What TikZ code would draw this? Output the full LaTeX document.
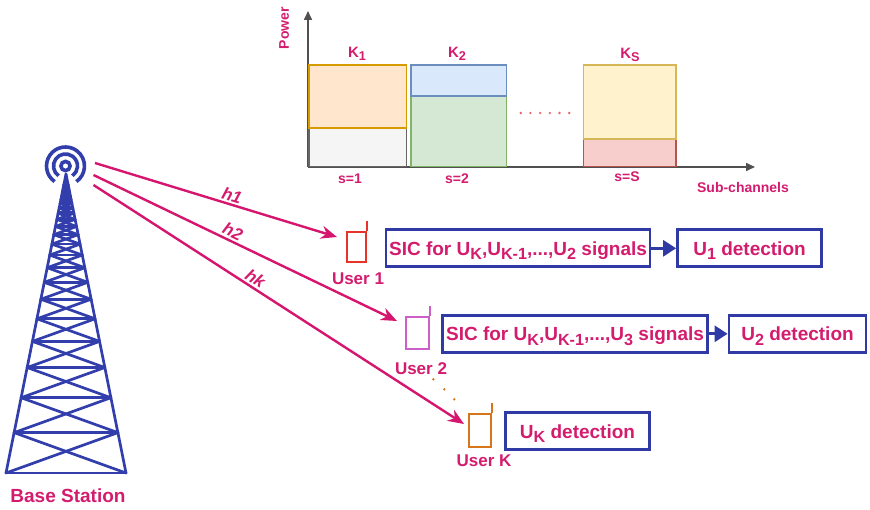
\documentclass[tikz,border=0pt]{standalone}
\usepackage{fontspec}
\setmainfont{Liberation Sans}
\usetikzlibrary{arrows.meta}

\definecolor{txt}{RGB}{212,28,110}
\definecolor{sig}{RGB}{214,22,110}
\definecolor{bx}{RGB}{48,58,165}
\definecolor{twr}{RGB}{50,62,172}
\definecolor{axc}{RGB}{80,80,80}
\definecolor{ph1}{RGB}{232,52,40}
\definecolor{ph2}{RGB}{205,95,200}
\definecolor{phk}{RGB}{212,118,25}
\definecolor{dotc}{RGB}{232,100,100}
\definecolor{orF}{HTML}{FFE6CC}\definecolor{orD}{HTML}{D79B00}
\definecolor{grF}{HTML}{F5F5F5}\definecolor{grD}{HTML}{666666}
\definecolor{blF}{HTML}{DAE8FC}\definecolor{blD}{HTML}{6C8EBF}
\definecolor{gnF}{HTML}{D5E8D4}\definecolor{gnD}{HTML}{82B366}
\definecolor{yeF}{HTML}{FFF2CC}\definecolor{yeD}{HTML}{D6B656}
\definecolor{rdF}{HTML}{F8CECC}\definecolor{rdD}{HTML}{B85450}

\newcommand\lowsub[1]{\raisebox{-0.24em}{\scalebox{0.85}{#1}}}

\tikzset{
  lab/.style={text=txt, inner sep=1pt, font=\fontsize{17}{20}\selectfont\bfseries},
  boxtxt/.style={text=txt, font=\fontsize{19}{22}\selectfont\bfseries},
  chartlab/.style={text=txt, inner sep=1pt, font=\fontsize{15}{18}\selectfont\bfseries},
  small/.style={text=txt, inner sep=1pt, font=\fontsize{14}{16}\selectfont\bfseries},
  blk/.style={boxtxt, draw=bx, line width=2.8pt, inner sep=0pt, minimum height=37pt,
              text height=13.6pt, text depth=0pt},
  flow/.style={draw=bx, line width=3pt, -{Triangle[length=13pt,width=16pt]}},
  sigline/.style={draw=sig, line width=2.4pt, -{Stealth[length=16pt,width=13pt]}},
  hlab/.style={text=txt, sloped, above, inner sep=2pt,
               font=\fontsize{17}{20}\selectfont\bfseries\itshape},
  phone/.style={draw=#1, line width=2pt, inner sep=0pt},
  towerline/.style={draw=twr, line width=2.7pt, line cap=round, line join=round},
  axis/.style={draw=axc, line width=1.6pt, -{Triangle[length=9pt,width=8pt]}},
  bar/.style args={#1/#2}{fill=#1, draw=#2, line width=1.8pt},
}

\begin{document}
\begin{tikzpicture}[x=1pt,y=-1pt]
\useasboundingbox (0,0) rectangle (870,510);

% ---------- power / sub-channel chart ----------
\draw[axis] (308,167) -- (308,11);
\draw[axis] (308,167) -- (755,167);

\draw[bar=grF/grD] (309,128.3) rectangle (406.5,166.5);
\draw[bar=orF/orD] (309,65) rectangle (406.5,128.3);
\draw[bar=gnF/gnD] (410.7,95.7) rectangle (506.5,166.5);
\draw[bar=blF/blD] (410.7,65) rectangle (506.5,95.7);
\draw[bar=rdF/rdD] (583.5,139) rectangle (676,166.5);
\draw[bar=yeF/yeD] (583.5,65) rectangle (676,139);

\foreach \i in {0,...,5}
  \fill[dotc] ({520.7+9.7*\i},113) circle (1.3);

\node[small, rotate=90] (pw) at (284,28) {Power};
\node[small] (sc) at (743,187) {Sub-channels};
\node[chartlab] (k1) at (357,54) {K\lowsub{1}};
\node[chartlab] (k2) at (457,54) {K\lowsub{2}};
\node[chartlab] (ks) at (630,55) {K\lowsub{S}};
\node[small] (s1) at (350,179) {s=1};
\node[small] (s2) at (457,179) {s=2};
\node[small] (sS) at (627,177) {s=S};

% ---------- base station tower ----------
\coordinate (ant) at (65.5,166);
\draw[towerline] (66,174) -- (6,473);
\draw[towerline] (66,174) -- (126,473);
% lattice levels shrink geometrically towards the top
\foreach \k [remember=\db as \da (initially 299)] in {0,...,23}{
  \pgfmathsetmacro\db{\da*0.865}
  \pgfmathsetmacro\wa{\da*0.20067}
  \pgfmathsetmacro\wb{\db*0.20067}
  \draw[towerline] ({66-\wa},{174+\da}) -- ({66+\wa},{174+\da});
  \draw[towerline] ({66-\wa},{174+\da}) -- ({66+\wb},{174+\db});
  \draw[towerline] ({66+\wa},{174+\da}) -- ({66-\wb},{174+\db});
}
\draw[twr, line width=3.6pt] (ant) circle (4.6);
\draw[twr, line width=3.6pt] (ant) ++(-235:12) arc[start angle=-235, end angle=55, radius=12];
\draw[twr, line width=3.6pt] (ant) ++(-235:19) arc[start angle=-235, end angle=55, radius=19];
\node[lab, font=\fontsize{19}{22}\selectfont\bfseries] (bs) at (68,496) {Base Station};

% ---------- users ----------
\node[phone=ph1, minimum width=19pt, minimum height=30pt] (u1) at (356.3,247.5) {};
\draw[ph1, line width=2pt] (u1.north east) -- ++(0,-10);
\node[lab] (l1) at (358,279) {User 1};

\node[phone=ph2, minimum width=23pt, minimum height=32pt] (u2) at (417.5,333.3) {};
\draw[ph2, line width=2pt] (u2.north east) -- ++(0,-10);
\node[lab] (l2) at (421,369) {User 2};

\node[phone=phk, minimum width=21.5pt, minimum height=33pt] (uk) at (480,430.8) {};
\draw[phk, line width=2pt] (uk.north east) -- ++(0,-10);
\node[lab] (lk) at (484,461) {User K};

\foreach \p in {(433.3,379.3),(444.3,389.3),(454.3,399.3)}
  \fill[phk] \p circle (1.3);

% ---------- channel links ----------
\coordinate (a1) at (95,163);
\coordinate (a2) at (93.5,175);
\coordinate (a3) at (93.5,185);
\coordinate (t1) at (337,237);
\coordinate (t2) at (397,321);
\coordinate (tk) at (464,424);
\draw[sigline] (a1) -- node[hlab, pos=0.555] {h1} (t1);
\draw[sigline] (a2) -- node[hlab, pos=0.446] {h2} (t2);
\draw[sigline] (a3) -- node[hlab, pos=0.424] {hk} (tk);

% ---------- detection chains ----------
\node[blk, minimum width=264pt] (sic1) at (518,248.3)
  {SIC for U\lowsub{K},U\lowsub{K-1},...,U\lowsub{2} signals};
\node[blk, minimum width=144pt] (det1) at (749.5,248.3) {U\lowsub{1} detection};
\draw[flow] (sic1) -- (det1);

\node[blk, minimum width=265pt] (sic2) at (575,333.8)
  {SIC for U\lowsub{K},U\lowsub{K-1},...,U\lowsub{3} signals};
\node[blk, minimum width=137pt] (det2) at (797.5,333.8) {U\lowsub{2} detection};
\draw[flow] (sic2) -- (det2);

\node[blk, minimum width=144pt] (detk) at (577.5,431.3) {U\lowsub{K} detection};
\end{tikzpicture}
\end{document}
